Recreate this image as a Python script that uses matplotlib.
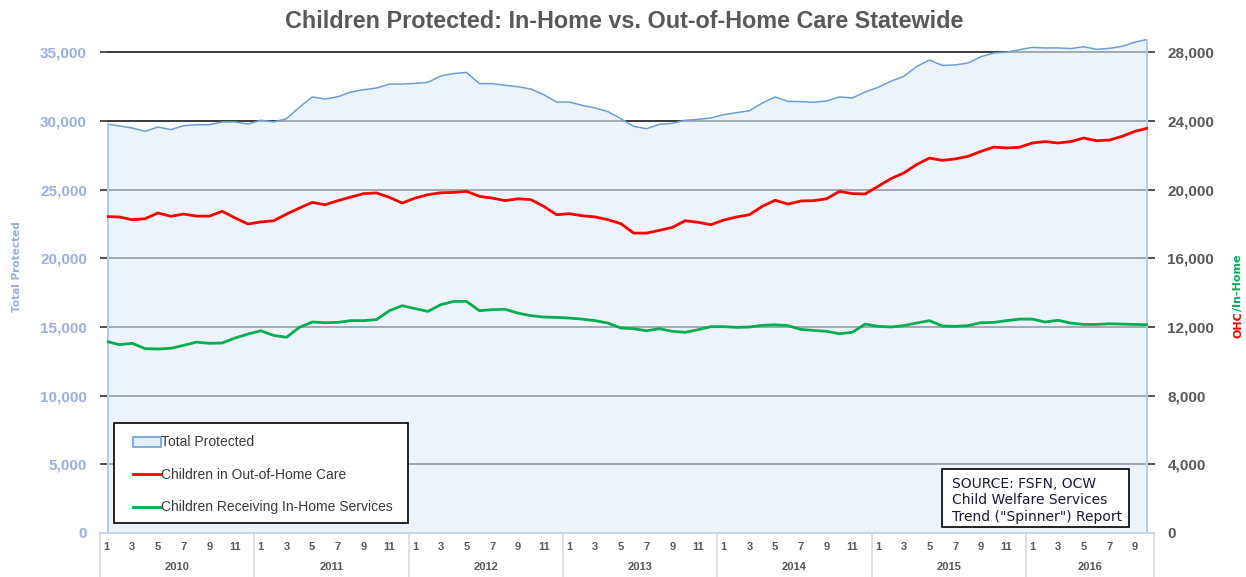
import matplotlib
matplotlib.use("Agg")
import matplotlib.pyplot as plt
import matplotlib.transforms as mtransforms
from matplotlib.patches import Patch, Rectangle
from matplotlib.lines import Line2D

plt.rcParams['font.family'] = ['Liberation Sans', 'DejaVu Sans']

# ---------------- data ----------------
years = ["2010", "2011", "2012", "2013", "2014", "2015", "2016"]
months_per_year = [12, 12, 12, 12, 12, 12, 10]

total_protected = [29780, 29640, 29490, 29250, 29560, 29370, 29660, 29730, 29730, 29930, 29930, 29780,
                   30050, 29930, 30170, 31000, 31750, 31600, 31770, 32110, 32280, 32400, 32690, 32690,
                   32740, 32820, 33280, 33450, 33540, 32720, 32720, 32600, 32500, 32330, 31920, 31380,
                   31380, 31140, 30950, 30680, 30170, 29610, 29440, 29760, 29830, 30050, 30120, 30220,
                   30460, 30610, 30750, 31310, 31750, 31430, 31410, 31360, 31460, 31750, 31680, 32110,
                   32450, 32890, 33250, 33960, 34440, 34050, 34080, 34220, 34680, 34950, 35020, 35190,
                   35360, 35320, 35320, 35270, 35410, 35220, 35290, 35440, 35750, 35950]

out_of_home = [18430, 18410, 18250, 18310, 18640, 18450, 18580, 18460, 18460, 18740, 18350, 18000,
               18120, 18190, 18580, 18930, 19260, 19120, 19360, 19570, 19770, 19810, 19550, 19220,
               19510, 19710, 19820, 19840, 19900, 19610, 19510, 19360, 19470, 19420, 19030, 18540,
               18600, 18480, 18410, 18250, 18020, 17470, 17470, 17630, 17800, 18190, 18100, 17960,
               18230, 18410, 18540, 19030, 19380, 19160, 19340, 19360, 19470, 19900, 19770, 19750,
               20190, 20640, 20970, 21460, 21840, 21710, 21790, 21940, 22230, 22480, 22430, 22470,
               22720, 22800, 22720, 22800, 23010, 22850, 22890, 23110, 23400, 23590]

in_home = [11160, 10970, 11050, 10740, 10720, 10760, 10930, 11120, 11050, 11070, 11360, 11590,
           11780, 11510, 11400, 11980, 12290, 12250, 12270, 12370, 12370, 12430, 12950, 13240,
           13070, 12910, 13300, 13490, 13490, 12950, 13010, 13030, 12810, 12660, 12580, 12560,
           12520, 12460, 12370, 12230, 11940, 11900, 11780, 11900, 11750, 11690, 11840, 12020,
           12020, 11980, 12000, 12100, 12130, 12080, 11860, 11800, 11750, 11610, 11690, 12170,
           12040, 12000, 12080, 12230, 12370, 12060, 12040, 12080, 12250, 12270, 12370, 12460,
           12460, 12290, 12390, 12230, 12150, 12150, 12190, 12170, 12150, 12130]

left_ticks = [0, 5000, 10000, 15000, 20000, 25000, 30000, 35000]
right_ticks = [0, 4000, 8000, 12000, 16000, 20000, 24000, 28000]

title = "Children Protected: In-Home vs. Out-of-Home Care Statewide"
legend_labels = ["Total Protected", "Children in Out-of-Home Care",
                 "Children Receiving In-Home Services"]
source_lines = ["SOURCE: FSFN, OCW", "Child Welfare Services", "Trend (\"Spinner\") Report"]

# ---------------- figure ----------------
W, H = 1246, 577
fig = plt.figure(figsize=(W / 100, H / 100), dpi=100)
AX_L, AX_R, AX_B, AX_T = 106.5, 1148, 533, 38.6
ax = fig.add_axes([AX_L / W, (H - AX_B) / H, (AX_R - AX_L) / W, (AX_B - AX_T) / H])

def ax_x(px):
    return (px - AX_L) / (AX_R - AX_L)

def ax_y(py):
    return (AX_B - py) / (AX_B - AX_T)

n = len(total_protected)
x = list(range(n))

ax.set_xlim(0, n - 1)
ax.set_ylim(0, 36000)

# gridlines (behind the translucent fill)
for v in left_ticks[1:]:
    ax.axhline(v, color='#3a3a3a', lw=1.4, zorder=1)

fill_col = '#E1EDF8'
line_col = '#6D9ED6'
edge_col = '#B3CCE9'
ax.fill_between(x, 0, total_protected, facecolor=fill_col, alpha=0.62, lw=0, zorder=2)
ax.plot(x, total_protected, color=line_col, lw=1.1, zorder=3)
ax.plot([0, 0], [0, total_protected[0]], color=edge_col, lw=2.2, zorder=3)
ax.plot([n - 1, n - 1], [0, total_protected[-1]], color=edge_col, lw=2.8, zorder=3)

for s in ['top', 'right', 'left', 'bottom']:
    ax.spines[s].set_visible(False)

ax.set_yticks(left_ticks)
ax.set_yticklabels([f"{v:,}" for v in left_ticks])
ax.tick_params(axis='y', length=5, width=1.2, color='#333333', pad=9,
               labelsize=11, labelcolor='#9BAFE0')
for lab in ax.get_yticklabels():
    lab.set_fontweight('bold')
ax.yaxis.get_major_ticks()[0].tick1line.set_visible(False)
ax.set_xticks([])

# twin axis for OHC / In-Home
ax2 = ax.twinx()
ax2.set_ylim(0, 28800)
ax2.set_xlim(0, n - 1)
ax2.plot(x, out_of_home, color='#FF0000', lw=2.0, zorder=4, solid_capstyle='round')
ax2.plot(x, in_home, color='#00B050', lw=2.0, zorder=4, solid_capstyle='round')
for s in ['top', 'right', 'left', 'bottom']:
    ax2.spines[s].set_visible(False)
ax2.set_yticks(right_ticks)
ax2.set_yticklabels([f"{v:,}" for v in right_ticks])
ax2.tick_params(axis='y', length=5, width=1.2, color='#333333', pad=9,
                labelsize=11, labelcolor='#595959')
for lab in ax2.get_yticklabels():
    lab.set_fontweight('bold')
ax2.yaxis.get_major_ticks()[0].tick2line.set_visible(False)

# category axis (months / years)
trans = mtransforms.blended_transform_factory(ax.transData, ax.transAxes)
ax.plot([-0.5, n - 0.5], [0, 0], transform=trans, color='#C9D8EC', lw=1.5, clip_on=False, zorder=5)
start = 0
bounds = [-0.5]
for yr, nm in zip(years, months_per_year):
    for m in range(nm):
        if (m + 1) % 2 == 1:
            ax.text(start + m, ax_y(547), str(m + 1), transform=trans, ha='center', va='center',
                    fontsize=8, fontweight='bold', color='#595959')
    ax.text(start + (nm - 1) / 2, ax_y(567), yr, transform=trans, ha='center', va='center',
            fontsize=8, fontweight='bold', color='#595959')
    start += nm
    bounds.append(start - 0.5)
for b in bounds:
    ax.plot([b, b], [0, ax_y(577)], transform=trans, color='#D5DCE8', lw=1.2, clip_on=False)

# title and axis labels
fig.text(624 / W, 1 - 21 / H, title, ha='center', va='center', fontsize=16.8,
         fontweight='bold', color='#595959')
fig.text(17 / W, 1 - 267 / H, "Total Protected", rotation=90, ha='center', va='center',
         fontsize=7.6, fontweight='bold', color='#9BAFE0', family='DejaVu Sans')
fig.text(1238 / W, 1 - 338 / H, "OHC", rotation=90, ha='center', va='bottom',
         fontsize=8, fontweight='bold', color='#FF0000', family='DejaVu Sans')
fig.text(1238 / W, 1 - 311 / H, "/In-Home", rotation=90, ha='center', va='bottom',
         fontsize=8, fontweight='bold', color='#00B050', family='DejaVu Sans')

# legend (frame drawn separately)
ax.add_patch(Rectangle((ax_x(114), ax_y(523)), ax_x(408) - ax_x(114), ax_y(423) - ax_y(523),
                       transform=ax.transAxes, facecolor='white', edgecolor='black', lw=1.2,
                       zorder=9))
handles = [Patch(facecolor='#E3EEF9', edgecolor=line_col, lw=1.2),
           Line2D([], [], color='#FF0000', lw=2.0),
           Line2D([], [], color='#00B050', lw=2.0)]
leg = ax.legend(handles, legend_labels, loc='upper left',
                bbox_to_anchor=(ax_x(133), ax_y(435.5)),
                frameon=False, fontsize=10, labelspacing=1.33, handlelength=2.0,
                handletextpad=0.05, borderpad=0, borderaxespad=0)
for t in leg.get_texts():
    t.set_color('#3a3a3a')
leg.set_zorder(10)

# source box
ax.add_patch(Rectangle((ax_x(942), ax_y(527)), ax_x(1129) - ax_x(942), ax_y(469) - ax_y(527),
                       transform=ax.transAxes, facecolor='white', edgecolor='black', lw=1.2,
                       zorder=10))
for line, py in zip(source_lines, [484, 500.5, 517]):
    ax.text(ax_x(952), ax_y(py), line, transform=ax.transAxes, ha='left', va='center',
            fontsize=10, color='#1a1a33', family='DejaVu Sans', zorder=11)

fig.savefig("out.png", dpi=100)
